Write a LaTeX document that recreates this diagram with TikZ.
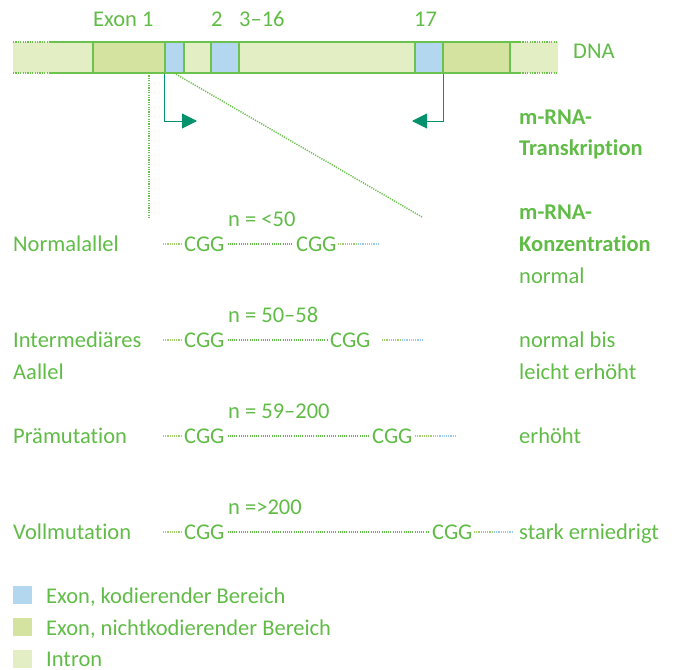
\documentclass[tikz,border=0pt]{standalone}
\usepackage{fontspec}
\setmainfont{Carlito}[Ligatures=NoCommon]
\usetikzlibrary{arrows.meta}
\definecolor{txtgreen}{RGB}{96,188,70}
\definecolor{intronfill}{RGB}{228,238,196}
\definecolor{noncodfill}{RGB}{212,228,160}
\definecolor{codfill}{RGB}{180,215,240}
\definecolor{bordergreen}{RGB}{108,194,78}
\definecolor{arrowgreen}{RGB}{0,146,108}
\definecolor{stubgreen}{RGB}{165,208,110}
\definecolor{stubblue}{RGB}{155,202,240}
\tikzset{
  lbl/.style={anchor=base west, inner sep=0pt, text=txtgreen},
  bold/.style={lbl, font=\fontsize{22.5}{24}\bfseries},
  exbox/.style={draw=bordergreen, line width=1.2pt, inner sep=0pt, minimum height=31pt},
  tarrow/.style={draw=arrowgreen, line width=1pt, -{Triangle[length=15pt,width=15pt]}},
  guide/.style={draw=bordergreen, line width=1.5pt, dash pattern=on 1.2pt off 1.2pt},
  dotline/.style={draw=txtgreen, line width=1.4pt, dash pattern=on 1.1pt off 1.1pt, shorten <=3pt, shorten >=3pt},
  stubg/.style={draw=stubgreen, line width=1.4pt, dash pattern=on 1.1pt off 1.1pt},
  stubb/.style={draw=stubblue, line width=1.4pt, dash pattern=on 1.1pt off 1.1pt},
  legbox/.style={inner sep=0pt, minimum width=19pt, minimum height=18pt}
}
\begin{document}
\begin{tikzpicture}[x=1pt,y=-1pt,font=\fontsize{22.5}{24}\selectfont]
\useasboundingbox (0,0) rectangle (676,669);

% DNA strand: intron background with dotted loose ends
\fill[intronfill] (13,42) rectangle (558,73);
\draw[guide] (13,42) -- (50,42) (13,73) -- (50,73) (520,42) -- (558,42) (520,73) -- (558,73);
\draw[draw=bordergreen, line width=1.2pt] (50,42) -- (520,42) (50,73) -- (520,73);

% exons
\node[exbox, fill=noncodfill, minimum width=72pt] (ex1n) at (129,57.5) {};
\node[exbox, fill=codfill, minimum width=19pt] (ex1c) at (174.5,57.5) {};
\node[exbox, fill=codfill, minimum width=28pt] (ex2) at (225,57.5) {};
\node[exbox, fill=codfill, minimum width=28pt] (ex17) at (429,57.5) {};
\node[exbox, fill=noncodfill, minimum width=67pt] (ex17n) at (476.5,57.5) {};

% exon labels
\node[lbl] (lexon1) at (93,27) {Exon 1};
\node[lbl] (lexon2) at (211,27) {2};
\node[lbl] (lexon3) at (239,27) {3–16};
\node[lbl] (lexon17) at (414,27) {17};
\node[lbl] (ldna) at (573,59) {DNA};

% transcription start and end
\coordinate (tstart) at (197,121);
\coordinate (tend) at (412,121);
\draw[tarrow] (ex1c.south west) |- (tstart);
\draw[tarrow] (ex17.south east) |- (tend);

% zoom guides onto the repeat region
\coordinate (za) at (149,73);
\coordinate (zb) at (149,218);
\coordinate (zc) at (174,73);
\coordinate (zd) at (422,217);
\draw[guide] (za) -- (zb);
\draw[guide] (zc) -- (zd);

% right column headings
\node[bold] (h1a) at (519,124) {m-RNA-};
\node[bold] (h1b) at (519,155) {Transkription};
\node[bold] (h2a) at (519,219) {m-RNA-};
\node[bold] (h2b) at (519,251) {Konzentration};

% row 1: Normalallel
\node[lbl] (r1) at (13,251) {Normalallel};
\node[lbl] (n1) at (228,226) {n = <50};
\node[lbl] (c1a) at (184,251) {CGG};
\node[lbl] (c1b) at (296,251) {CGG};
\node[lbl] (k1) at (519,283) {normal};
\coordinate (s1a) at (163,244);
\coordinate (s1b) at (338,244);
\coordinate (s1c) at (358,244);
\coordinate (s1d) at (378,244);
\draw[stubg] (s1a) -- ([xshift=-3pt]c1a.west |- s1a);
\draw[dotline] (c1a.east |- s1a) -- (c1b.west |- s1a);
\draw[stubg] (s1b) -- (s1c);
\draw[stubb] (s1c) -- (s1d);

% row 2: Intermediäres Allel
\node[lbl] (r2a) at (13,347) {Intermediäres};
\node[lbl] (r2b) at (13,379) {Aallel};
\node[lbl] (n2) at (228,322) {n = 50–58};
\node[lbl] (c2a) at (184,347) {CGG};
\node[lbl] (c2b) at (330,347) {CGG};
\node[lbl] (k2a) at (519,347) {normal bis};
\node[lbl] (k2b) at (519,379) {leicht erhöht};
\coordinate (s2a) at (163,340);
\coordinate (s2b) at (382,340);
\coordinate (s2c) at (402,340);
\coordinate (s2d) at (422,340);
\draw[stubg] (s2a) -- ([xshift=-3pt]c2a.west |- s2a);
\draw[dotline] (c2a.east |- s2a) -- (c2b.west |- s2a);
\draw[stubg] (s2b) -- (s2c);
\draw[stubb] (s2c) -- (s2d);

% row 3: Prämutation
\node[lbl] (r3) at (13,443) {Prämutation};
\node[lbl] (n3) at (228,418) {n = 59–200};
\node[lbl] (c3a) at (184,443) {CGG};
\node[lbl] (c3b) at (372,443) {CGG};
\node[lbl] (k3) at (519,443) {erhöht};
\coordinate (s3a) at (163,436);
\coordinate (s3b) at (415,436);
\coordinate (s3c) at (435,436);
\coordinate (s3d) at (455,436);
\draw[stubg] (s3a) -- ([xshift=-3pt]c3a.west |- s3a);
\draw[dotline] (c3a.east |- s3a) -- (c3b.west |- s3a);
\draw[stubg] (s3b) -- (s3c);
\draw[stubb] (s3c) -- (s3d);

% row 4: Vollmutation
\node[lbl] (r4) at (13,539) {Vollmutation};
\node[lbl] (n4) at (228,514) {n =>200};
\node[lbl] (c4a) at (184,539) {CGG};
\node[lbl] (c4b) at (432,539) {CGG};
\node[lbl] (k4) at (519,539) {stark erniedrigt};
\coordinate (s4a) at (163,532);
\coordinate (s4b) at (474,532);
\coordinate (s4c) at (494,532);
\coordinate (s4d) at (513,532);
\draw[stubg] (s4a) -- ([xshift=-3pt]c4a.west |- s4a);
\draw[dotline] (c4a.east |- s4a) -- (c4b.west |- s4a);
\draw[stubg] (s4b) -- (s4c);
\draw[stubb] (s4c) -- (s4d);

% legend
\node[legbox, fill=codfill] (lg1) at (22.5,595) {};
\node[legbox, fill=noncodfill] (lg2) at (22.5,627) {};
\node[legbox, fill=intronfill] (lg3) at (22.5,659) {};
\node[lbl] (lt1) at (46,603) {Exon, kodierender Bereich};
\node[lbl] (lt2) at (46,635) {Exon, nichtkodierender Bereich};
\node[lbl] (lt3) at (46,666) {Intron};
\end{tikzpicture}
\end{document}
